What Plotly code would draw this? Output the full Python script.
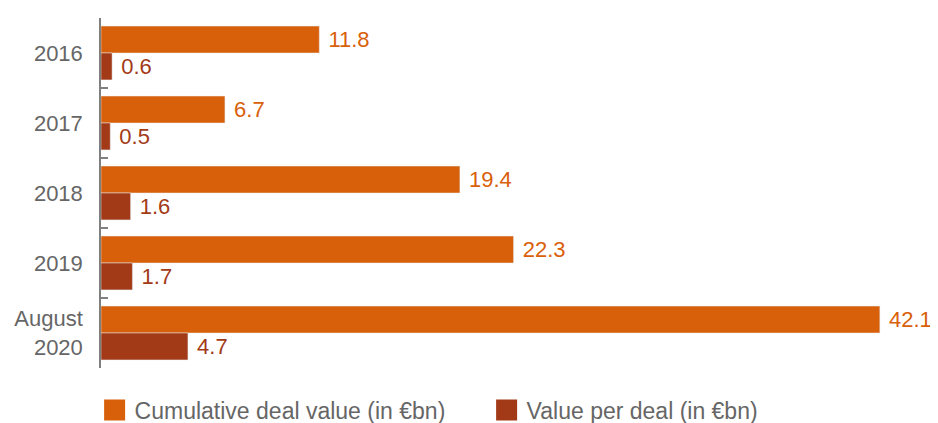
import plotly.graph_objects as go

# Deal values by year
years = ["2016", "2017", "2018", "2019", "August<br>2020"]
cumulative_value = [11.8, 6.7, 19.4, 22.3, 42.1]
value_per_deal = [0.6, 0.5, 1.6, 1.7, 4.7]

orange = "#D9600A"
dark = "#A33A17"
grey = "#666666"
font_family = "Liberation Sans, Arial, Helvetica, sans-serif"

fig = go.Figure()

fig.add_trace(go.Bar(
    y=years, x=cumulative_value, orientation="h",
    name="Cumulative deal value (in €bn)",
    marker=dict(color=orange),
    text=cumulative_value, texttemplate="\u00a0%{x}",
    textposition="outside", textfont=dict(color=orange, size=22),
    constraintext="none", cliponaxis=False, showlegend=False,
))
fig.add_trace(go.Bar(
    y=years, x=value_per_deal, orientation="h",
    name="Value per deal (in €bn)",
    marker=dict(color=dark),
    text=value_per_deal, texttemplate="\u00a0%{x}",
    textposition="outside", textfont=dict(color=dark, size=22),
    constraintext="none", cliponaxis=False, showlegend=False,
))

# legend entries with bigger squares
for name, color in [("Cumulative deal value (in €bn)", orange), ("Value per deal (in €bn)", dark)]:
    fig.add_trace(go.Scatter(
        x=[None], y=[None], mode="markers", name=name,
        marker=dict(symbol="square", size=16, color=color, line=dict(color=color, width=5)),
    ))

# page body adds ~8px offset, so the figure is sized to the visible area
fig.update_layout(
    width=930, height=415,
    margin=dict(l=93, r=8, t=10, b=55, autoexpand=False),
    barmode="group", bargap=0.23, bargroupgap=0,
    plot_bgcolor="white", paper_bgcolor="white",
    font=dict(family=font_family, size=22, color=grey),
    legend=dict(
        orientation="h", x=-0.0077, xanchor="left", y=-0.12, yanchor="middle",
        font=dict(size=23, color=grey), entrywidth=347, entrywidthmode="pixels",
    ),
)
fig.update_xaxes(range=[0, 44.81], showticklabels=False, showgrid=False, zeroline=False, showline=False)
fig.update_yaxes(
    autorange="reversed", showline=True, linecolor="#7f7f7f", linewidth=1.5,
    ticks="inside", tickson="boundaries", ticklen=7, tickcolor="#7f7f7f", tickwidth=1.5,
    showgrid=False, ticklabelstandoff=12, automargin=False,
)

fig.write_html("out.html")
